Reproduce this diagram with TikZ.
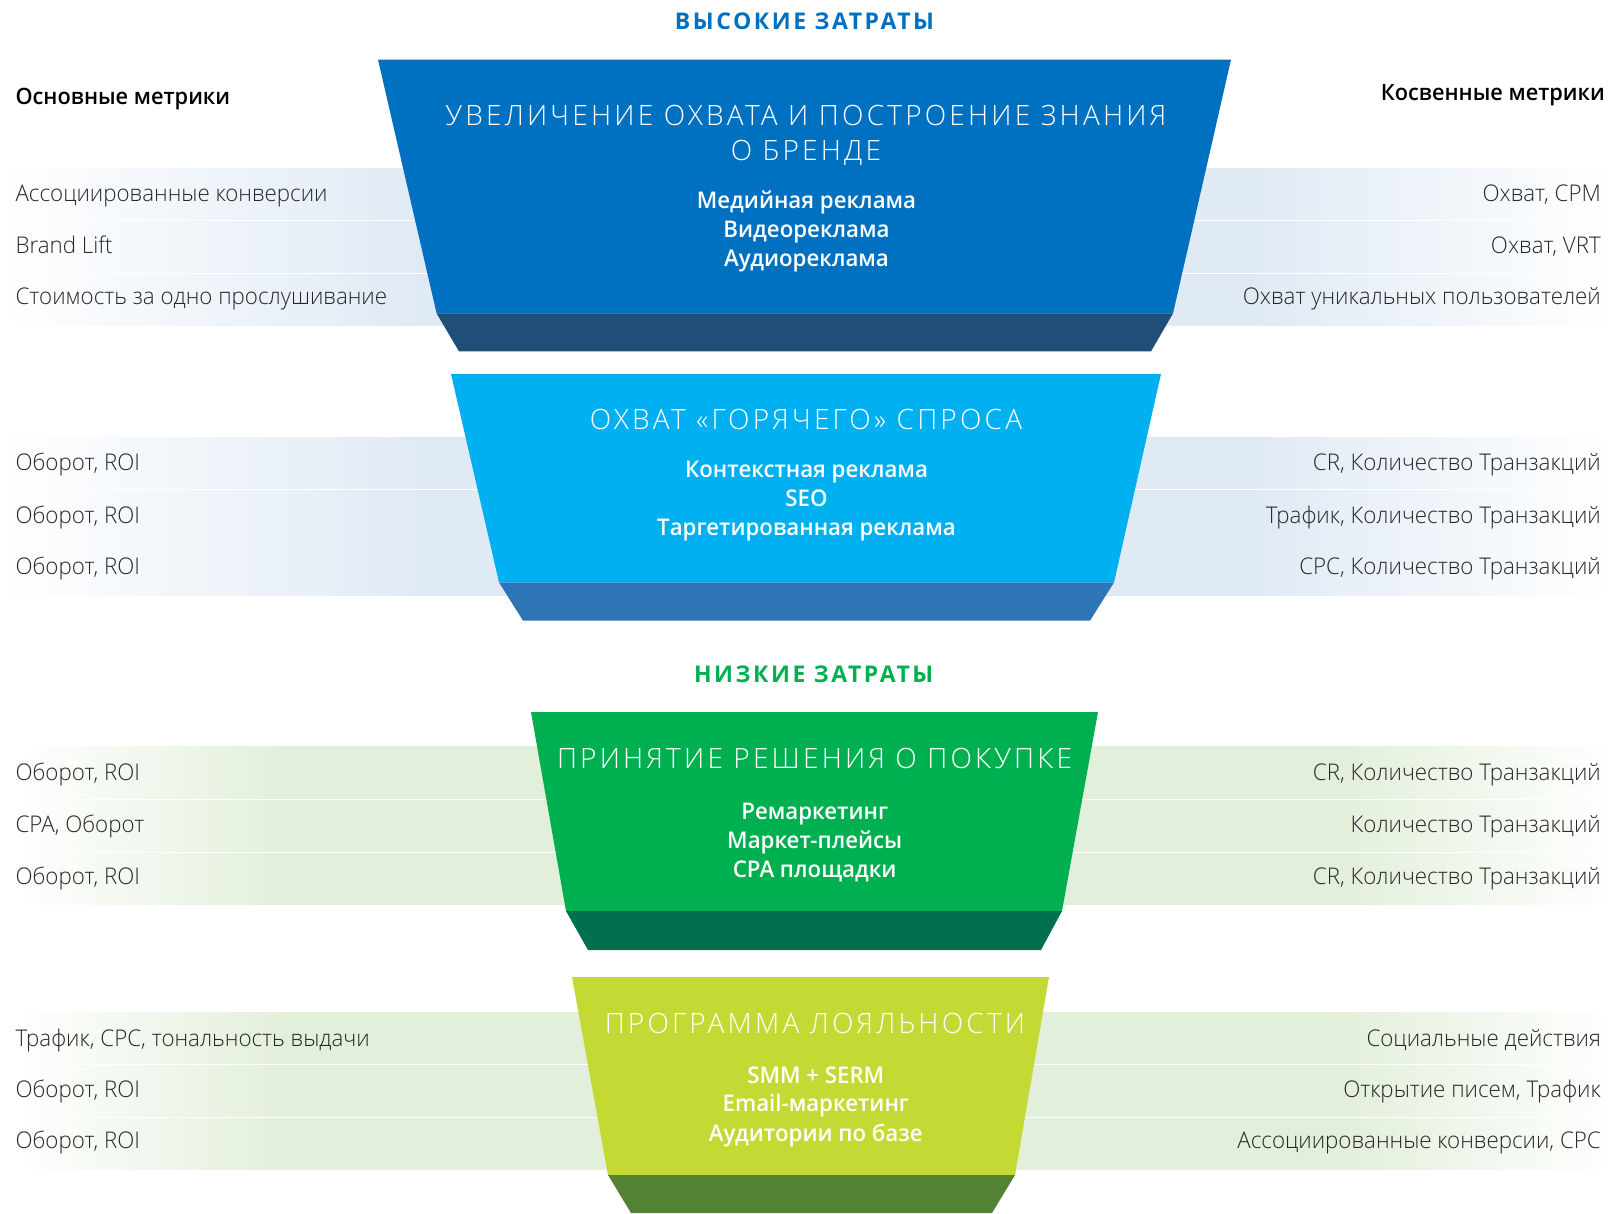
\documentclass[tikz,border=0pt]{standalone}
\usepackage{fontspec}
\setmainfont{Open Sans}
\IfFontExistsTF{Open Sans Light}{%
  \newfontfamily\bodyf{Open Sans Light}[FakeStretch=0.97]%
  \newfontfamily\lightf{Open Sans Light}[LetterSpace=11.5]}{%
  \newfontfamily\bodyf{Open Sans}[FakeStretch=0.97]%
  \newfontfamily\lightf{Open Sans}[LetterSpace=11.5]}
\IfFontExistsTF{Open Sans Semibold}{%
  \newfontfamily\semif{Open Sans Semibold}[FakeStretch=0.967]}{%
  \newfontfamily\semif{Open Sans}[FakeStretch=0.967]}
\newfontfamily\headf{Open Sans}[LetterSpace=11]
\definecolor{cBlue}{HTML}{0070C0}
\definecolor{cBlueD}{HTML}{1F4E79}
\definecolor{cCyan}{HTML}{00B0F0}
\definecolor{cCyanD}{HTML}{2E75B6}
\definecolor{cGreen}{HTML}{00B050}
\definecolor{cGreenD}{HTML}{00704F}
\definecolor{cLime}{HTML}{C5D934}
\definecolor{cLimeD}{HTML}{548235}
\definecolor{bBlue}{HTML}{E0EAF5}
\definecolor{bGreen}{HTML}{E2EFDA}
\definecolor{txt}{HTML}{262626}
% the visible part of a TikZ shading is 25bp..75bp
\pgfdeclarehorizontalshading{bandshB}{100bp}{color(0bp)=(white); color(25bp)=(white); color(38bp)=(bBlue); color(64bp)=(bBlue); color(75bp)=(white); color(100bp)=(white)}
\pgfdeclarehorizontalshading{bandshG}{100bp}{color(0bp)=(white); color(25.5bp)=(white); color(34bp)=(bGreen); color(66.5bp)=(bGreen); color(75bp)=(white); color(100bp)=(white)}
\newcommand\myband[2]{%
  \shade[shading=#2] (0,#1) rectangle (1611,{#1+51.2});
}
\begin{document}
\begin{tikzpicture}[x=1pt,y=-1pt,
  lt/.style={anchor=west,inner sep=0,text height=17pt,text depth=0pt,font=\bodyf\fontsize{23}{28}\selectfont,text=txt},
  rt/.style={lt,anchor=east},
  ttl/.style={anchor=center,inner sep=0,text height=20pt,text depth=0pt,font=\lightf\fontsize{28}{34}\selectfont,text=white},
  itm/.style={anchor=center,inner sep=0,text height=16.7pt,text depth=0pt,font=\semif\fontsize{23}{28}\selectfont,text=white},
  hdr/.style={anchor=center,inner sep=0,text height=16.7pt,text depth=0pt,font=\headf\bfseries\fontsize{23}{28}\selectfont},
  mh/.style={inner sep=0,text height=16pt,text depth=0pt,font=\semif\fontsize{22.5}{28}\selectfont,text=black}
]
\useasboundingbox[fill=white] (0,0) rectangle (1611,1213);

% bands
\myband{168.5}{bandshB}
\myband{221.6}{bandshB}
\myband{274.7}{bandshB}
\myband{437.7}{bandshB}
\myband{490.8}{bandshB}
\myband{543.9}{bandshB}
\myband{746.9}{bandshG}
\myband{800.0}{bandshG}
\myband{853.1}{bandshG}
\myband{1012.0}{bandshG}
\myband{1065.1}{bandshG}
\myband{1118.2}{bandshG}

% funnels
\fill[cBlue] (378,59.6) -- (1231,59.6) -- (1173,313.4) -- (436.6,313.4) -- cycle;
\fill[cBlueD] (436.6,313.4) -- (1173,313.4) -- (1151,351.4) -- (459,351.4) -- cycle;
\fill[cCyan] (451,374) -- (1161,374) -- (1114,582.5) -- (499,582.5) -- cycle;
\fill[cCyanD] (499,582.5) -- (1114,582.5) -- (1090,620.6) -- (523,620.6) -- cycle;
\fill[cGreen] (531,712) -- (1098,712) -- (1062,911) -- (566,911) -- cycle;
\fill[cGreenD] (566,911) -- (1062,911) -- (1041,950) -- (588,950) -- cycle;
\fill[cLime] (572,977) -- (1049,977) -- (1015,1175) -- (608,1175) -- cycle;
\fill[cLimeD] (608,1175) -- (1015,1175) -- (992,1213) -- (631,1213) -- cycle;

% headers
\node[hdr,text=cBlue] (hi) at (804.5,21.6) {ВЫСОКИЕ ЗАТРАТЫ};
\node[hdr,text=cGreen] (lo) at (813.7,674) {НИЗКИЕ ЗАТРАТЫ};
\node[mh,anchor=west] (mainm) at (15.4,96.6) {Основные метрики};
\node[mh,anchor=east] (indm) at (1605,92.5) {Косвенные метрики};

% funnel 1
\node[ttl] (t1a) at (806,115.1) {УВЕЛИЧЕНИЕ ОХВАТА И ПОСТРОЕНИЕ ЗНАНИЯ};
\node[ttl] (t1b) at (806,150) {О БРЕНДЕ};
\node[itm] (i1a) at (806.5,200.3) {Медийная реклама};
\node[itm] (i1b) at (806.5,229.1) {Видеореклама};
\node[itm] (i1c) at (806.5,257.9) {Аудиореклама};
\node[lt] (l1a) at (15.4,193.2) {Ассоциированные конверсии};
\node[lt] (l1b) at (15.4,244.5) {Brand Lift};
\node[lt] (l1c) at (15.4,295.9) {Стоимость за одно прослушивание};
\node[rt] (r1a) at (1601,193.2) {Охват, CPM};
\node[rt] (r1b) at (1601,244.5) {Охват, VRT};
\node[rt] (r1c) at (1601,295.9) {Охват уникальных пользователей};

% funnel 2
\node[ttl] (t2) at (806,419.2) {ОХВАТ «ГОРЯЧЕГО» СПРОСА};
\node[itm] (i2a) at (806.5,469.5) {Контекстная реклама};
\node[itm] (i2b) at (806.5,498.3) {SEO};
\node[itm] (i2c) at (806.5,527.1) {Таргетированная реклама};
\node[lt] (l2a) at (15.4,462.3) {Оборот, ROI};
\node[lt] (l2b) at (15.4,514.7) {Оборот, ROI};
\node[lt] (l2c) at (15.4,566.1) {Оборот, ROI};
\node[rt] (r2a) at (1601,462.3) {CR, Количество Транзакций};
\node[rt] (r2b) at (1601,514.7) {Трафик, Количество Транзакций};
\node[rt] (r2c) at (1601,566.1) {CPC, Количество Транзакций};

% funnel 3
\node[ttl] (t3) at (814.5,758.2) {ПРИНЯТИЕ РЕШЕНИЯ О ПОКУПКЕ};
\node[itm] (i3a) at (814.7,811.6) {Ремаркетинг};
\node[itm] (i3b) at (814.7,840.4) {Маркет-плейсы};
\node[itm] (i3c) at (814.7,869.2) {CPA площадки};
\node[lt] (l3a) at (15.4,771.6) {Оборот, ROI};
\node[lt] (l3b) at (15.4,824) {CPA, Оборот};
\node[lt] (l3c) at (15.4,876.4) {Оборот, ROI};
\node[rt] (r3a) at (1601,771.6) {CR, Количество Транзакций};
\node[rt] (r3b) at (1601,824) {Количество Транзакций};
\node[rt] (r3c) at (1601,876.4) {CR, Количество Транзакций};

% funnel 4
\node[ttl] (t4) at (815,1023.3) {ПРОГРАММА ЛОЯЛЬНОСТИ};
\node[itm] (i4a) at (815.8,1074.7) {SMM + SERM};
\node[itm] (i4b) at (815.8,1103.4) {Email-маркетинг};
\node[itm] (i4c) at (815.8,1133.2) {Аудитории по базе};
\node[lt] (l4a) at (15.4,1037.7) {Трафик, CPC, тональность выдачи};
\node[lt] (l4b) at (15.4,1089) {Оборот, ROI};
\node[lt] (l4c) at (15.4,1140.4) {Оборот, ROI};
\node[rt] (r4a) at (1601,1037.7) {Социальные действия};
\node[rt] (r4b) at (1601,1089) {Открытие писем, Трафик};
\node[rt] (r4c) at (1601,1140.4) {Ассоциированные конверсии, CPC};
\end{tikzpicture}
\end{document}
